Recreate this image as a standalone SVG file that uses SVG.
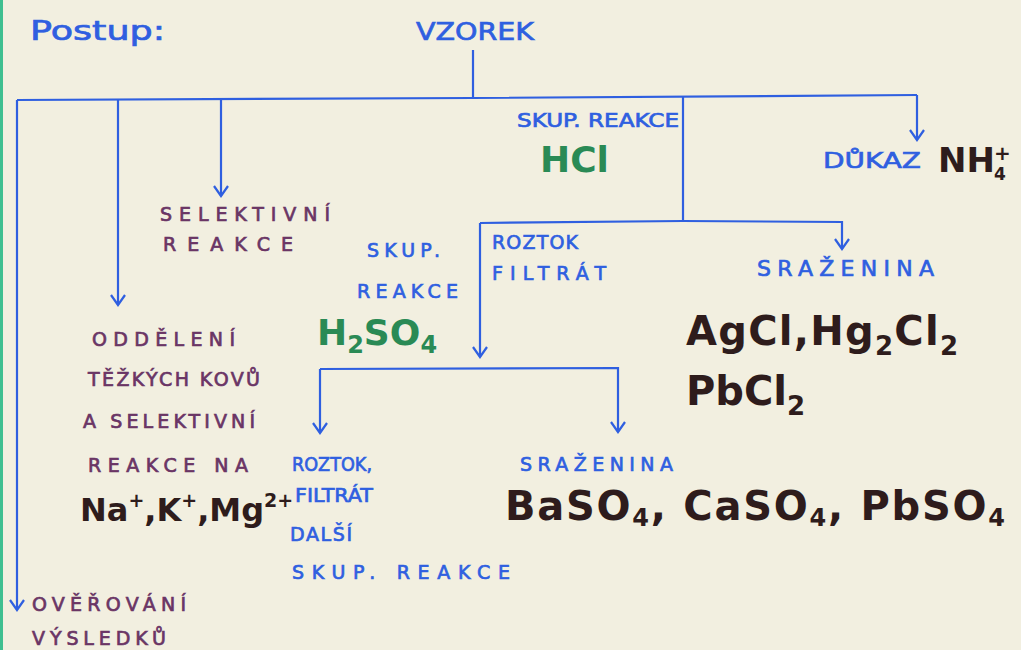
<svg xmlns="http://www.w3.org/2000/svg" width="1021" height="650" viewBox="0 0 1021 650">
<defs>
<style>
.bg{fill:#f2efe0}
.ln{stroke:#2f5fe0;stroke-width:2.2;fill:none}
.b{fill:#2f5fe0;stroke:#2f5fe0;stroke-width:0.7;font-family:"DejaVu Sans",sans-serif}
.p{fill:#6a3565;stroke:#6a3565;stroke-width:0.7;font-family:"DejaVu Sans",sans-serif}
.g{fill:#2a8a55;font-family:"DejaVu Sans",sans-serif;font-weight:bold}
.k{fill:#2e1c1c;font-family:"DejaVu Sans",sans-serif;font-weight:bold}
.s{font-size:19px}
</style>
<marker id="ar" viewBox="-12 -8 14 16" markerWidth="14" markerHeight="16" refX="0" refY="0" orient="auto" markerUnits="userSpaceOnUse">
<path d="M-10,-7 L0,0 L-10,7" fill="none" stroke="#2f5fe0" stroke-width="2.2"/>
</marker>
</defs>
<rect class="bg" x="0" y="0" width="1021" height="650"/>
<rect x="0" y="0" width="3" height="650" fill="#3fbf90"/>
<g id="connectors">
<path class="ln" d="M473,50 V98"/>
<path class="ln" d="M17,100 L473,98 L917,95"/>
<path class="ln" d="M17,100 V610" marker-end="url(#ar)"/>
<path class="ln" d="M118,100 V305" marker-end="url(#ar)"/>
<path class="ln" d="M221,100 V196" marker-end="url(#ar)"/>
<path class="ln" d="M917,95 V140" marker-end="url(#ar)"/>
<path class="ln" d="M683,97 V221"/>
<path class="ln" d="M480,223 L683,221 L842,222 V249" marker-end="url(#ar)"/>
<path class="ln" d="M480,223 V357" marker-end="url(#ar)"/>
<path class="ln" d="M320,369 L618,368 V432" marker-end="url(#ar)"/>
<path class="ln" d="M320,369 V433" marker-end="url(#ar)"/>
</g>
<g id="postup"><text class="b" x="30" y="40" font-size="27" textLength="135" lengthAdjust="spacingAndGlyphs">Postup:</text></g>
<g id="vzorek"><text class="b" x="416" y="40" font-size="24" textLength="118" lengthAdjust="spacingAndGlyphs">VZOREK</text></g>
<g id="skup-hcl">
<text class="b s" x="517" y="127" textLength="162" lengthAdjust="spacingAndGlyphs">SKUP. REAKCE</text>
<text class="g" x="540" y="172" font-size="36">HCl</text>
</g>
<g id="dukaz">
<text class="b" x="823" y="168" font-size="22" textLength="98" lengthAdjust="spacingAndGlyphs">DŮKAZ</text>
<text class="k" x="938" y="172" font-size="34">NH</text>
<text class="k" x="994" y="160" font-size="20">+</text>
<text class="k" x="994" y="180" font-size="17">4</text>
</g>
<g id="selektivni">
<text class="p s" x="160" y="221" textLength="170" lengthAdjust="spacing">SELEKTIVNÍ</text>
<text class="p s" x="163" y="251" textLength="130" lengthAdjust="spacing">REAKCE</text>
</g>
<g id="skup-h2so4">
<text class="b s" x="367" y="257" textLength="73" lengthAdjust="spacing">SKUP.</text>
<text class="b s" x="357" y="298" textLength="101" lengthAdjust="spacing">REAKCE</text>
<text class="g" x="317" y="345" font-size="36">H<tspan font-size="24" dy="8">2</tspan><tspan dy="-8">SO</tspan><tspan font-size="24" dy="8">4</tspan></text>
</g>
<g id="roztok1">
<text class="b s" x="492" y="249" textLength="86" lengthAdjust="spacing">ROZTOK</text>
<text class="b s" x="492" y="280" textLength="114" lengthAdjust="spacing">FILTRÁT</text>
</g>
<g id="srazenina1">
<text class="b" x="757" y="276" font-size="22" textLength="177" lengthAdjust="spacing">SRAŽENINA</text>
<text class="k" x="686" y="345" font-size="40" textLength="272" lengthAdjust="spacing">AgCl,Hg<tspan font-size="26" dy="10">2</tspan><tspan dy="-10">Cl</tspan><tspan font-size="26" dy="10">2</tspan></text>
<text class="k" x="686" y="405" font-size="40">PbCl<tspan font-size="26" dy="10">2</tspan></text>
</g>
<g id="oddeleni">
<text class="p s" x="92" y="346" textLength="143" lengthAdjust="spacing">ODDĚLENÍ</text>
<text class="p s" x="88" y="386" textLength="172" lengthAdjust="spacing">TĚŽKÝCH KOVŮ</text>
<text class="p s" x="83" y="428" textLength="172" lengthAdjust="spacing">A SELEKTIVNÍ</text>
<text class="p s" x="88" y="472" textLength="160" lengthAdjust="spacing">REAKCE NA</text>
<text class="k" x="80" y="521" font-size="32">Na<tspan font-size="19" dy="-14">+</tspan><tspan dy="14">,K</tspan><tspan font-size="19" dy="-14">+</tspan><tspan dy="14">,Mg</tspan><tspan font-size="19" dy="-14">2+</tspan></text>
</g>
<g id="roztok2">
<text class="b s" x="292" y="471" textLength="80" lengthAdjust="spacingAndGlyphs">ROZTOK,</text>
<text class="b s" x="295" y="502" textLength="78" lengthAdjust="spacingAndGlyphs">FILTRÁT</text>
<text class="b s" x="290" y="541" textLength="62" lengthAdjust="spacing">DALŠÍ</text>
<text class="b s" x="292" y="579" textLength="218" lengthAdjust="spacing">SKUP. REAKCE</text>
</g>
<g id="srazenina2">
<text class="b s" x="520" y="471" textLength="153" lengthAdjust="spacing">SRAŽENINA</text>
<text class="k" x="505" y="520" font-size="40" textLength="500" lengthAdjust="spacing">BaSO<tspan font-size="24" dy="6">4</tspan><tspan dy="-6">, CaSO</tspan><tspan font-size="24" dy="6">4</tspan><tspan dy="-6">, PbSO</tspan><tspan font-size="24" dy="6">4</tspan></text>
</g>
<g id="overovani">
<text class="p s" x="32" y="611" textLength="154" lengthAdjust="spacing">OVĚŘOVÁNÍ</text>
<text class="p s" x="32" y="645" textLength="134" lengthAdjust="spacing">VÝSLEDKŮ</text>
</g>
</svg>
